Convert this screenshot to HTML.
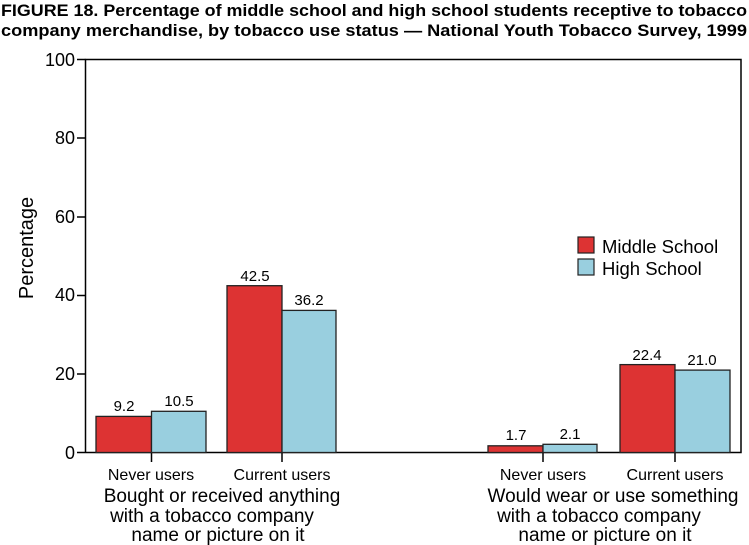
<!DOCTYPE html>
<html><head><meta charset="utf-8"><style>
html,body{margin:0;padding:0;background:#fff;}
svg{display:block;font-family:"Liberation Sans",Arial,sans-serif;}
</style></head><body>
<svg width="749" height="545" viewBox="0 0 749 545" xmlns="http://www.w3.org/2000/svg">
<text x="1" y="16" font-size="16.5" font-weight="bold" textLength="746" lengthAdjust="spacingAndGlyphs">FIGURE 18. Percentage of middle school and high school students receptive to tobacco</text>
<text x="1" y="36" font-size="16.5" font-weight="bold" textLength="746" lengthAdjust="spacingAndGlyphs">company merchandise, by tobacco use status — National Youth Tobacco Survey, 1999</text>
<g stroke="#000" stroke-width="1.5" fill="none">
<path d="M85.5 452.5 V59.5 H741 V452.5 H85.5"/>
<path d="M77 59.5H85.5 M77 138H85.5 M77 217H85.5 M77 295.5H85.5 M77 374H85.5 M77 452.5H85.5"/>
<path d="M151.5 452.5V462 M282 452.5V462 M543 452.5V462 M675 452.5V462"/>
</g>
<g font-size="18" text-anchor="end">
<text x="75" y="66">100</text><text x="75" y="144">80</text><text x="75" y="223">60</text>
<text x="75" y="301">40</text><text x="75" y="380">20</text><text x="75" y="459">0</text>
</g>
<text transform="translate(33,248) rotate(-90)" font-size="20" text-anchor="middle">Percentage</text>
<g stroke="#222" stroke-width="1.3">
<rect x="96" y="416.4" width="55.5" height="36.1" fill="#dd3333"/>
<rect x="151.5" y="411.3" width="54.5" height="41.2" fill="#99cfdf"/>
<rect x="227" y="285.7" width="55" height="166.8" fill="#dd3333"/>
<rect x="282" y="310.4" width="54" height="142.1" fill="#99cfdf"/>
<rect x="488" y="445.8" width="55" height="6.7" fill="#dd3333"/>
<rect x="543" y="444.3" width="54" height="8.2" fill="#99cfdf"/>
<rect x="620" y="364.6" width="55" height="87.9" fill="#dd3333"/>
<rect x="675" y="370.1" width="55" height="82.4" fill="#99cfdf"/>
</g>
<g font-size="15" text-anchor="middle">
<text x="124" y="411">9.2</text><text x="179" y="406">10.5</text>
<text x="255" y="281">42.5</text><text x="309" y="305">36.2</text>
<text x="516" y="440">1.7</text><text x="570" y="439">2.1</text>
<text x="647" y="360">22.4</text><text x="702" y="365">21.0</text>
</g>
<g font-size="16" text-anchor="middle">
<text x="151" y="480">Never users</text><text x="282" y="480">Current users</text>
<text x="543" y="480">Never users</text><text x="675" y="480">Current users</text>
</g>
<g font-size="19" text-anchor="middle">
<text x="222" y="502">Bought or received anything</text>
<text x="212" y="522">with a tobacco company</text>
<text x="218" y="541">name or picture on it</text>
<text x="613" y="502">Would wear or use something</text>
<text x="599" y="522">with a tobacco company</text>
<text x="605" y="541">name or picture on it</text>
</g>
<rect x="578" y="237" width="16" height="16" fill="#dd3333" stroke="#222" stroke-width="1.2"/>
<rect x="578" y="259" width="16" height="16" fill="#99cfdf" stroke="#222" stroke-width="1.2"/>
<text x="602" y="253" font-size="18.5">Middle School</text>
<text x="602" y="275" font-size="18.5">High School</text>
</svg>
</body></html>
